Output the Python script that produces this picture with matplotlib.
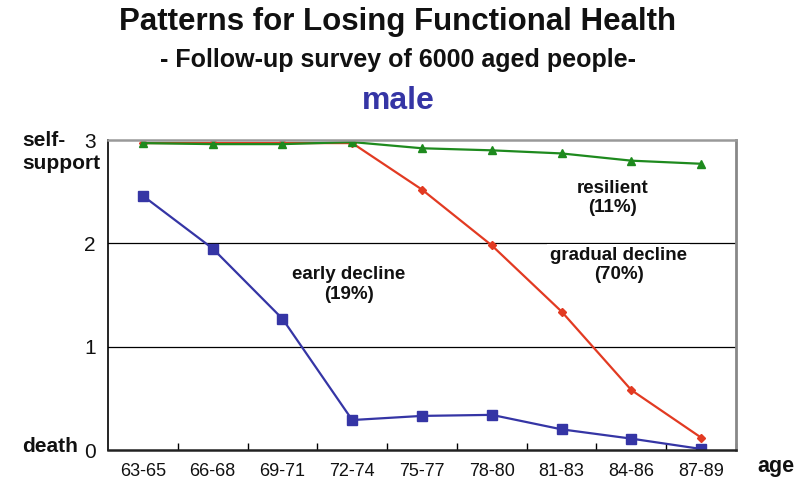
import matplotlib
matplotlib.use("Agg")
import matplotlib.pyplot as plt
import numpy as np

plt.rcParams['font.family'] = ['Liberation Sans', 'DejaVu Sans']

age_groups = ["63-65", "66-68", "69-71", "72-74", "75-77", "78-80", "81-83", "84-86", "87-89"]
resilient = [2.97, 2.96, 2.96, 2.98, 2.92, 2.90, 2.87, 2.80, 2.77]
gradual = [2.97, 2.97, 2.97, 2.97, 2.52, 1.98, 1.34, 0.58, 0.12]
early = [2.46, 1.95, 1.27, 0.29, 0.33, 0.34, 0.20, 0.11, 0.01]
y_ticks = [0, 1, 2, 3]

blue = "#3535A5"
red = "#E23A22"
green = "#1E8A1E"

fig = plt.figure(figsize=(7.96, 4.86), dpi=100)
ax = fig.add_axes([108/796, 1-450/486, (736-108)/796, (450-140)/486])

x = np.arange(len(age_groups))
for yv in [1, 2]:
    ax.axhline(yv, color="black", lw=0.9, zorder=1)

ax.plot(x, early, color=blue, lw=1.6, marker="s", ms=7, zorder=3)
ax.plot(x, gradual, color=red, lw=1.6, marker="D", ms=4.5, zorder=3)
ax.plot(x, resilient, color=green, lw=1.6, marker="^", ms=6, zorder=4)

ax.set_xlim(-0.5, len(age_groups) - 0.5)
ax.set_ylim(0, 3)
ax.set_xticks(x)
ax.set_xticklabels(age_groups, fontsize=13)
ax.tick_params(axis="x", which="major", length=0, pad=9, colors="#111111")
ax.set_xticks(np.arange(len(age_groups)) + 0.5, minor=True)
ax.tick_params(axis="x", which="minor", direction="in", length=5, width=1)
ax.set_yticks(y_ticks)
ax.set_yticklabels([str(v) for v in y_ticks], fontsize=15)
ax.tick_params(axis="y", length=0, pad=9, colors="#111111")

ax.spines["left"].set_color("black")
ax.spines["left"].set_linewidth(1.2)
ax.spines["bottom"].set_color("#222222")
ax.spines["bottom"].set_linewidth(1.8)
ax.spines["top"].set_color("#999999")
ax.spines["top"].set_linewidth(1.8)
ax.spines["right"].set_color("#888888")
ax.spines["right"].set_linewidth(2)
for sp in ax.spines.values():
    sp.set_zorder(5)

tkw = dict(fontsize=13.5, fontweight="bold", ha="center", va="center", color="#111111")
ax.text(2.95, 1.60, "early decline\n(19%)", linespacing=1.2, **tkw, zorder=6)
ax.text(6.73, 2.44, "resilient\n(11%)", linespacing=1.2, **tkw, zorder=6)
ax.text(6.82, 1.79, "gradual decline\n(70%)", linespacing=1.2, **tkw, zorder=6,
        bbox=dict(facecolor="white", edgecolor="none", pad=2))

fig.text(0.5, 1-22/486, "Patterns for Losing Functional Health", ha="center", va="center",
         fontsize=22.5, fontweight="bold", color="#111111")
fig.text(0.5, 1-60/486, "- Follow-up survey of 6000 aged people-", ha="center", va="center",
         fontsize=18, fontweight="bold", color="#111111")
fig.text(0.5, 1-101/486, "male", ha="center", va="center",
         fontsize=23, fontweight="bold", color=blue)
fig.text(22/796, 1-140/486, "self-", ha="left", va="center", fontsize=15,
         fontweight="bold", color="#111111")
fig.text(22/796, 1-163/486, "support", ha="left", va="center", fontsize=15,
         fontweight="bold", color="#111111")
fig.text(22/796, 1-446/486, "death", ha="left", va="center", fontsize=15,
         fontweight="bold", color="#111111")
fig.text(757/796, 1-466/486, "age", ha="left", va="center", fontsize=15.5,
         fontweight="bold", color="#111111")

fig.savefig("out.png", dpi=100)
